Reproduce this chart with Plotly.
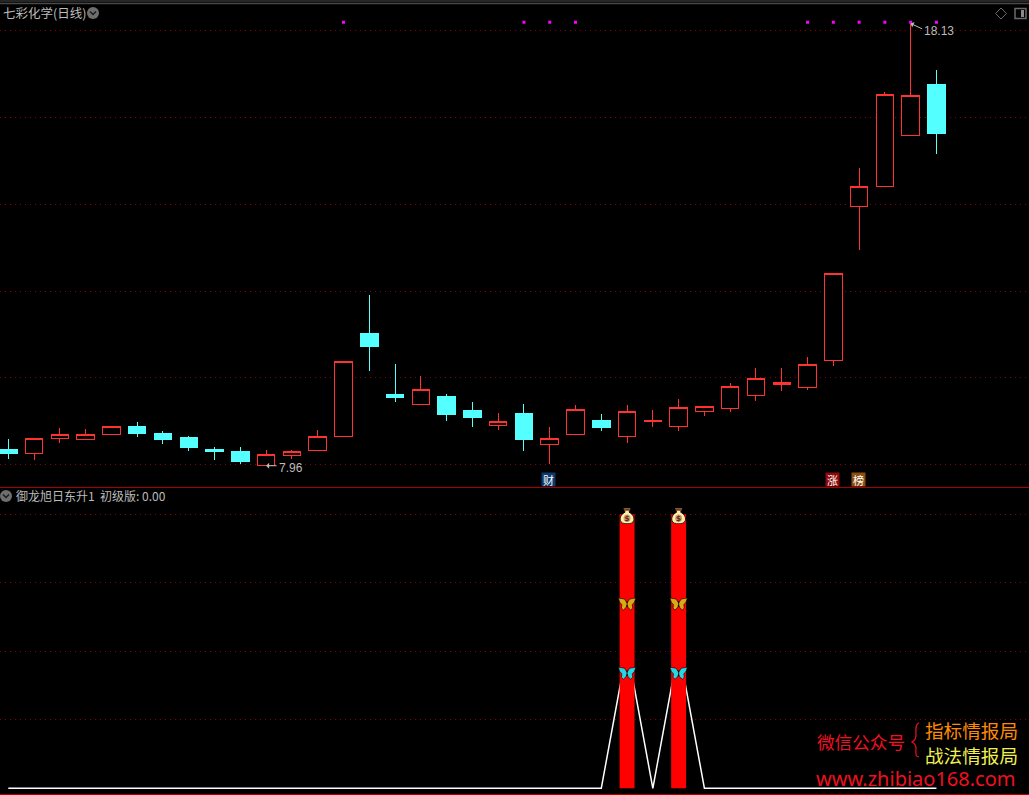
import base64
import plotly.graph_objects as go

W, H = 1029, 795

# ---- data ----
day = list(range(37))
open_ = [8.34, 8.24, 8.58, 8.56, 8.67, 8.87, 8.71, 8.62, 8.34, 8.28, 7.96, 8.19, 8.31, 8.64, 10.99, 9.59, 9.36, 9.56, 9.22,
         8.88, 9.15, 8.44, 8.67, 8.99, 8.63, 8.97, 8.86, 9.20, 9.27, 9.57, 9.82, 9.75, 10.37, 13.92, 14.38, 15.55, 16.72]
high = [8.57, 8.59, 8.82, 8.80, 8.87, 8.97, 8.76, 8.64, 8.39, 8.39, 8.32, 8.32, 8.78, 10.36, 11.89, 10.30, 10.02, 9.61, 9.43,
        9.17, 9.38, 8.85, 9.36, 9.15, 9.36, 9.24, 9.49, 9.33, 9.86, 10.21, 10.21, 10.46, 12.37, 14.81, 16.56, 18.13, 17.06]
low = [8.12, 8.10, 8.49, 8.56, 8.67, 8.63, 8.46, 8.30, 8.09, 8.00, 7.96, 8.11, 8.31, 8.64, 10.14, 9.43, 9.36, 8.99, 8.85,
       8.78, 8.30, 8.00, 8.67, 8.76, 8.48, 8.85, 8.76, 9.10, 9.20, 9.45, 9.68, 9.70, 10.25, 12.92, 14.38, 15.55, 15.13]
close = [8.24, 8.59, 8.68, 8.68, 8.87, 8.71, 8.57, 8.39, 8.28, 8.05, 8.22, 8.29, 8.64, 10.36, 10.71, 9.52, 9.72, 9.13, 9.08,
         8.98, 8.57, 8.59, 9.26, 8.83, 9.21, 9.01, 9.30, 9.33, 9.79, 9.97, 9.88, 10.29, 12.37, 14.39, 16.50, 16.48, 15.59]
flag_days = [13, 20, 21, 22, 31, 32, 33, 34, 35, 36]
flag_price = 18.16
price_ticks = [17.97, 15.97, 13.97, 11.97, 9.99, 7.99]
low_price, low_day = 7.96, 10
high_price, high_day = 18.13, 35

signal_days = [24, 26]
signal_bar = [4, 4]
signal_line = [0] * 37
signal_line[24] = 2.05
signal_line[26] = 2.05
bag_level = 3.98
gold_level = 2.69
cyan_level = 1.68
signal_ticks = [0, 1, 2, 3, 4]

title_top = "七彩化学(日线)"
title_bottom = "御龙旭日东升1  初级版: 0.00"
badges = [(21, "财", "#0c3a6e"), (32, "涨", "#8c0a0a"), (33, "榜", "#8c4e10")]

# ---- layout helpers ----
def fx(p):
    return p / W

def fy(p):
    return 1 - p / H

X_RANGE = [-0.322, 39.59]
Y1_RANGE = [7.459, 18.418]
Y2_RANGE = [-0.083, 4.384]
CJK = "Noto Sans CJK SC"
GREY = "#bcbcbc"
RED = "#ff3232"
CYAN = "#54ffff"
GRID = "#8c0000"
DASH = "1px,4px"


def icon(svg):
    return "data:image/svg+xml;base64," + base64.b64encode(svg.encode()).decode()


BUTTERFLY = (
    '<svg xmlns="http://www.w3.org/2000/svg" width="18" height="14" viewBox="0 0 18 14">'
    '<path d="M9 6 L6.5 2 L0.5 1 L2 5.5 L4 7.5 L3.5 11 L5.5 13 L8 10.5 L9 8 L10 10.5 L12.5 13 L14.5 11 L14 7.5 L16 5.5 L17.5 1 L11.5 2 Z" '
    'fill="{c}" stroke="#000" stroke-width="0.6"/>'
    '<path d="M9 4 V10" stroke="#000" stroke-width="0.8"/></svg>'
)
BAG = (
    '<svg xmlns="http://www.w3.org/2000/svg" width="16" height="17" viewBox="0 0 16 17">'
    '<path d="M4 1 H12 L10 5 C14 7 15.5 10 15 13 C14.5 16 11 16.5 8 16.5 C5 16.5 1.5 16 1 13 C0.5 10 2 7 6 5 Z" '
    'fill="#fff2a8" stroke="#000" stroke-width="0.8"/>'
    '<path d="M4.5 1.5 H11.5 L10.5 3.5 H5.5 Z" fill="#7a3b1a"/>'
    '<circle cx="8" cy="11" r="3.6" fill="#c9a070"/>'
    '<text x="8" y="13.6" font-size="7.5" font-weight="bold" text-anchor="middle" fill="#6b1f1f" font-family="DejaVu Sans">$</text>'
    '</svg>'
)

fig = go.Figure()

fig.add_trace(go.Candlestick(
    x=day, open=open_, high=high, low=low, close=close,
    increasing=dict(line=dict(color=RED, width=1), fillcolor="#000000"),
    decreasing=dict(line=dict(color=CYAN, width=1), fillcolor=CYAN),
    whiskerwidth=0, xaxis="x", yaxis="y", showlegend=False,
))
fig.add_trace(go.Scatter(
    x=flag_days, y=[flag_price] * len(flag_days), mode="markers",
    marker=dict(symbol="square", size=3, color="#ff00ff", line=dict(width=0)),
    xaxis="x", yaxis="y", showlegend=False,
))
fig.add_trace(go.Scatter(
    x=day, y=signal_line, mode="lines", line=dict(color="#ffffff", width=1.5),
    xaxis="x2", yaxis="y2", showlegend=False,
))
fig.add_trace(go.Bar(
    x=signal_days, y=signal_bar, width=0.58, marker=dict(color="#ff0000", line=dict(width=0)),
    xaxis="x2", yaxis="y3", showlegend=False,
))

images = []
for d in signal_days:
    images.append(dict(source=icon(BAG), xref="x2", yref="y2", x=d, y=bag_level,
                       sizex=0.6, sizey=0.25, xanchor="center", yanchor="middle", layer="above", sizing="stretch"))
    images.append(dict(source=icon(BUTTERFLY.replace("{c}", "#d9a916")), xref="x2", yref="y2", x=d, y=gold_level,
                       sizex=0.72, sizey=0.205, xanchor="center", yanchor="middle", layer="above", sizing="stretch"))
    images.append(dict(source=icon(BUTTERFLY.replace("{c}", "#2ad4e0")), xref="x2", yref="y2", x=d, y=cyan_level,
                       sizex=0.72, sizey=0.205, xanchor="center", yanchor="middle", layer="above", sizing="stretch"))

shapes = [
    dict(type="rect", xref="paper", yref="paper", x0=0, x1=1, y0=fy(2.6), y1=1, fillcolor="#262626", line=dict(width=0)),
    dict(type="line", xref="paper", yref="paper", x0=0, x1=1, y0=fy(3.7), y1=fy(3.7), line=dict(color="#5a5a5a", width=1)),
    dict(type="line", xref="paper", yref="paper", x0=0, x1=1, y0=fy(487.5), y1=fy(487.5), line=dict(color="#a80000", width=1)),
    dict(type="line", xref="paper", yref="paper", x0=0, x1=1, y0=fy(794.4), y1=fy(794.4), line=dict(color="#c00000", width=1)),
]
# round chevron buttons
for cx, cy in [(93, 13), (6, 496)]:
    shapes.append(dict(type="circle", xref="paper", yref="paper",
                       x0=fx(cx - 6), x1=fx(cx + 6), y0=fy(cy + 6), y1=fy(cy - 6),
                       fillcolor="#6e6e6e", line=dict(width=0)))
    shapes.append(dict(type="path", xref="paper", yref="paper",
                       path=f"M{fx(cx-3)},{fy(cy-1.5)} L{fx(cx)},{fy(cy+1.5)} L{fx(cx+3)},{fy(cy-1.5)}",
                       line=dict(color="#1c1c1c", width=1.5)))
# top right buttons
shapes.append(dict(type="path", xref="paper", yref="paper",
                   path=f"M{fx(1001)},{fy(8)} L{fx(1006.5)},{fy(13.5)} L{fx(1001)},{fy(19)} L{fx(995.5)},{fy(13.5)} Z",
                   line=dict(color="#6a6a6a", width=1)))
shapes.append(dict(type="rect", xref="paper", yref="paper",
                   x0=fx(1015), x1=fx(1026), y0=fy(18.5), y1=fy(8.5), line=dict(color="#6a6a6a", width=1.5)))
shapes.append(dict(type="rect", xref="paper", yref="paper",
                   x0=fx(1021), x1=fx(1024), y0=fy(17), y1=fy(10), fillcolor="#8a8a8a", line=dict(width=0)))
# watermark brace
bx = 917
shapes.append(dict(type="path", xref="paper", yref="paper",
                   path=(f"M{fx(bx+2)},{fy(723)} C{fx(bx-2)},{fy(724)} {fx(bx-1)},{fy(730)} {fx(bx-1)},{fy(735)} "
                         f"C{fx(bx-1)},{fy(739)} {fx(bx-3)},{fy(741)} {fx(bx-5)},{fy(742)} "
                         f"C{fx(bx-3)},{fy(743)} {fx(bx-1)},{fy(745)} {fx(bx-1)},{fy(749)} "
                         f"C{fx(bx-1)},{fy(754)} {fx(bx-2)},{fy(756)} {fx(bx+2)},{fy(757)}"),
                   line=dict(color="#f01020", width=1.2)))


def label(text, px, py, size, color, anchor="left", family=CJK):
    return dict(text=text, xref="paper", yref="paper", x=fx(px), y=fy(py), showarrow=False,
                xanchor=anchor, yanchor="middle", font=dict(size=size, color=color, family=family))


annotations = [
    label(title_top, 1, 13, 12.5, GREY),
    label(title_bottom, 14, 495, 12, GREY),
    label("微信公众号", 815, 741, 17.6, "#f01020"),
    label("指标情报局", 923, 729, 18.6, "#ff8c00"),
    label("战法情报局", 923, 754, 18.6, "#f2f050"),
    label("www.zhibiao168.com", 814, 778, 20, "#f01020", family="Noto Sans"),
    dict(text=f"{low_price:.2f}", xref="x", yref="y", x=low_day, y=low_price, xshift=11, yshift=-2, showarrow=False,
         xanchor="left", yanchor="middle", font=dict(size=12, color=GREY, family="Liberation Sans")),
    dict(text=f"{high_price:.2f}", xref="x", yref="y", x=high_day, y=high_price, xshift=11, yshift=-7, showarrow=False,
         xanchor="left", yanchor="middle", font=dict(size=12, color=GREY, family="Liberation Sans")),
    dict(text="", xref="x", yref="y", x=low_day, y=low_price, ax=12, ay=0, axref="pixel", ayref="pixel",
         showarrow=True, arrowhead=1, arrowsize=1, arrowwidth=1, arrowcolor=GREY),
    dict(text="", xref="x", yref="y", x=high_day, y=high_price, ax=13, ay=6, axref="pixel", ayref="pixel",
         showarrow=True, arrowhead=1, arrowsize=1, arrowwidth=1, arrowcolor=GREY),
]
for d, t, c in badges:
    annotations.append(dict(text=t, xref="x", yref="paper", x=d, y=fy(479.5), xshift=-1, showarrow=False,
                            xanchor="center", yanchor="middle", width=13, height=13, borderpad=0, bgcolor=c,
                            font=dict(size=11, color="#ffffff", family=CJK)))

hidden_x = dict(range=X_RANGE, showgrid=False, zeroline=False, showticklabels=False, ticks="",
                showline=False, rangeslider=dict(visible=False), fixedrange=True)

fig.update_layout(
    width=W, height=H, autosize=False,
    margin=dict(l=0, r=0, t=0, b=0, pad=0),
    paper_bgcolor="#000000", plot_bgcolor="#000000",
    showlegend=False, boxgap=0.03, barmode="overlay",
    xaxis=dict(domain=[0, 1], anchor="y", **hidden_x),
    xaxis2=dict(domain=[0, 1], anchor="y2", **hidden_x),
    yaxis=dict(domain=[fy(487.5), fy(11)], range=Y1_RANGE, tickvals=price_ticks, showticklabels=False, ticks="",
               showgrid=True, gridcolor=GRID, griddash=DASH, gridwidth=1, zeroline=False, showline=False, anchor="x"),
    yaxis2=dict(domain=[fy(794), fy(488)], range=Y2_RANGE, tickvals=signal_ticks[1:], showticklabels=False, ticks="",
                showgrid=True, gridcolor=GRID, griddash=DASH, gridwidth=1, zeroline=False, showline=False, anchor="x2"),
    yaxis3=dict(domain=[fy(794), fy(488)], range=Y2_RANGE, overlaying="y2", visible=False, anchor="x2"),
    shapes=shapes, annotations=annotations, images=images,
)

fig.write_html("out.html", config={"displayModeBar": False},
               post_script=("document.body.style.margin='0';document.documentElement.style.overflow='hidden';"
                            "document.querySelectorAll('.boxes path').forEach(function(p){p.style.shapeRendering='crispEdges';});"))
